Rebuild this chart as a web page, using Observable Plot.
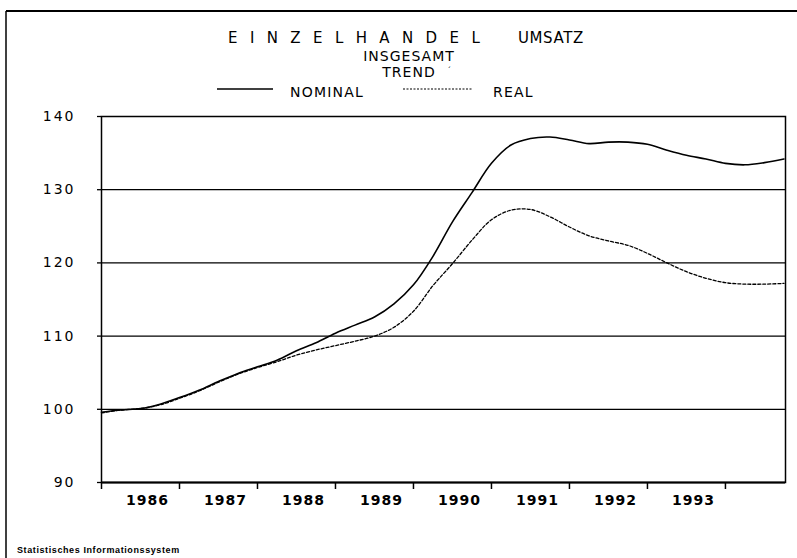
<!DOCTYPE html>
<html><head><meta charset="utf-8">
<script src="https://cdn.jsdelivr.net/npm/d3@7"></script>
<script src="https://cdn.jsdelivr.net/npm/@observablehq/plot@0.6"></script>
<style>
body{margin:0;background:#fff}
svg{display:block}
g[aria-label="y-axis tick label"] text{letter-spacing:2px}
g[aria-label="x-axis tick label"] text{letter-spacing:1px}
</style>
</head><body><div id="chart"></div>
<script>
// time in fractional years (quarterly readings)
const quarters = [1986.00,1986.25,1986.50,1986.75,1987.00,1987.25,1987.50,1987.75,
  1988.00,1988.25,1988.50,1988.75,1989.00,1989.25,1989.50,1989.75,
  1990.00,1990.25,1990.50,1990.75,1991.00,1991.25,1991.50,1991.75,
  1992.00,1992.25,1992.50,1992.75,1993.00,1993.25,1993.50,1993.75,
  1994.00,1994.25,1994.50,1994.75];
const nominal = [99.6,99.9,100.1,100.7,101.6,102.6,103.8,104.9,
  105.8,106.7,108.0,109.1,110.4,111.5,112.6,114.4,
  117.0,120.9,125.6,129.6,133.6,136.1,137.0,137.2,
  136.8,136.3,136.5,136.5,136.2,135.4,134.7,134.2,
  133.6,133.4,133.7,134.2];
const real = [99.5,99.9,100.1,100.6,101.5,102.5,103.7,104.8,
  105.7,106.5,107.4,108.1,108.7,109.3,110.0,111.2,
  113.4,116.9,119.9,123.1,125.9,127.2,127.3,126.3,
  124.9,123.7,123.0,122.4,121.3,120.0,118.8,117.9,
  117.3,117.1,117.1,117.2];
const seriesNames = ["NOMINAL","REAL"];
const yTicks = [90,100,110,120,130,140];
const gridValues = [100,110,120,130];
const yearTicks = [1986,1987,1988,1989,1990,1991,1992,1993,1994];
const yearLabels = [1986,1987,1988,1989,1990,1991,1992,1993];

const nomData = quarters.map((t,i)=>({t, v:nominal[i]}));
const realData = quarters.map((t,i)=>({t, v:real[i]}));

const chart = Plot.plot({
  width:797, height:558,
  marginLeft:101, marginRight:12, marginTop:116, marginBottom:76,
  style:{fontFamily:"DejaVu Sans", fontSize:"14px", color:"#000", background:"#fff"},
  x:{domain:[1986,1994.77], label:null},
  y:{domain:[90,140], label:null},
  marks:[
    Plot.ruleY(gridValues, {stroke:"#000", strokeWidth:1.3}),
    Plot.frame({stroke:"#000", strokeWidth:1.5}),
    Plot.ruleY([90], {stroke:"#000", strokeWidth:2.2}),
    Plot.axisY(yTicks, {label:null, tickSize:4, tickPadding:22, tickFormat:d=>String(d), fontSize:14, stroke:"#000", strokeWidth:1.3}),
    Plot.axisX(yearTicks, {label:null, tickSize:7, tickFormat:()=>"", stroke:"#000", strokeWidth:1.5}),
    Plot.axisX(yearLabels.map(y=>y+0.5), {label:null, tickSize:0, tickPadding:13, dx:7, fontWeight:"bold", fontSize:14, tickFormat:d=>String(Math.floor(d))}),
    Plot.line(nomData, {x:"t", y:"v", curve:"catmull-rom", stroke:"#000", strokeWidth:1.6}),
    Plot.line(realData, {x:"t", y:"v", curve:"catmull-rom", stroke:"#000", strokeWidth:1.3, strokeDasharray:"3,2"})
  ]
});
document.getElementById("chart").appendChild(chart);

const svg = d3.select(chart);
const g = svg.append("g").attr("font-family","DejaVu Sans").attr("fill","#000").attr("text-anchor","start");
// outer border (left and top)
g.append("line").attr("x1",6).attr("y1",11).attr("x2",797).attr("y2",11).attr("stroke","#000").attr("stroke-width",2);
g.append("line").attr("x1",6).attr("y1",11).attr("x2",6).attr("y2",558).attr("stroke","#000").attr("stroke-width",1.5);
// titles
g.append("text").attr("x",228).attr("y",43).attr("font-size",15).attr("letter-spacing","12.4px").text("EINZELHANDEL");
g.append("text").attr("x",518).attr("y",43).attr("font-size",15).attr("letter-spacing","0.6px").text("UMSATZ");
g.append("text").attr("x",409).attr("y",61).attr("font-size",14).attr("text-anchor","middle").attr("letter-spacing","1px").text("INSGESAMT");
g.append("text").attr("x",409).attr("y",77).attr("font-size",14).attr("text-anchor","middle").attr("letter-spacing","1px").text("TREND");
g.append("text").attr("x",447).attr("y",74).attr("font-size",8).text("´");
// legend
g.append("line").attr("x1",217).attr("x2",273).attr("y1",89).attr("y2",89).attr("stroke","#000").attr("stroke-width",1.5);
g.append("text").attr("x",290).attr("y",97).attr("font-size",14).attr("letter-spacing","1.2px").text(seriesNames[0]);
g.append("line").attr("x1",403).attr("x2",473).attr("y1",89).attr("y2",89).attr("stroke","#000").attr("stroke-width",1.2).attr("stroke-dasharray","2,1.5");
g.append("text").attr("x",493).attr("y",97).attr("font-size",14).attr("letter-spacing","1.2px").text(seriesNames[1]);
// footer
g.append("text").attr("x",17).attr("y",553).attr("font-family","Liberation Sans").attr("font-weight","bold").attr("font-size",9).attr("letter-spacing","0.6px").text("Statistisches Informationssystem");
</script>
</body></html>
